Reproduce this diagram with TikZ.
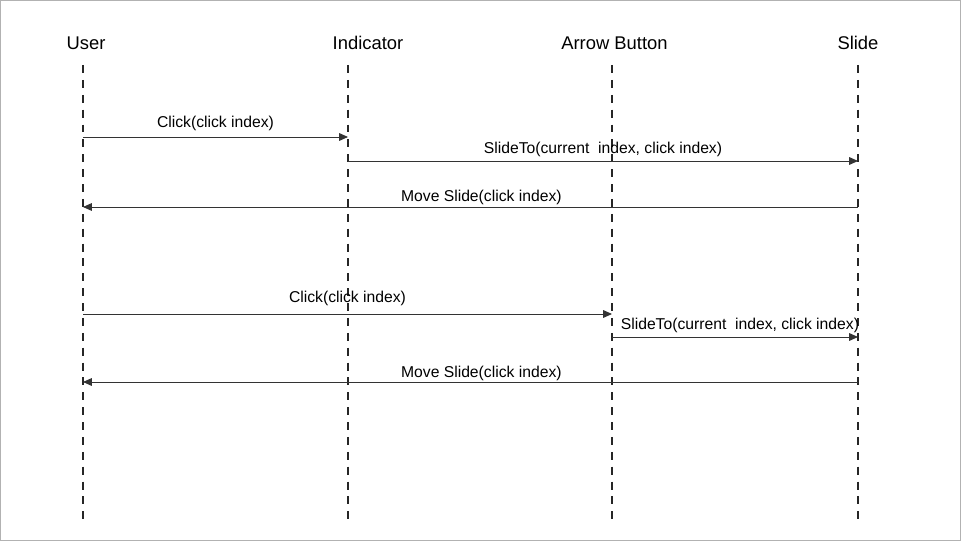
\documentclass[tikz,border=0pt]{standalone}
\usepackage{fontspec}
\setmainfont{Liberation Sans}
\usetikzlibrary{arrows.meta,positioning,calc}

\begin{document}
\begin{tikzpicture}[x=0.03cm,y=-0.03cm,
    actor/.style={anchor=base,inner sep=0pt,font=\fontsize{15.7}{18}\selectfont},
    lifeline/.style={black!85,line width=1.9pt,dash pattern=on 6.8pt off 5.9pt},
    msg/.style={black!80,line width=0.8pt,-{Triangle[length=7.6pt,width=6.6pt]}},
    txt/.style={anchor=base,inner sep=0pt,black,font=\fontsize{13.4}{16}\selectfont}]
    % Frame
    \useasboundingbox (0,0) rectangle (961,541);
    \draw[black!30,line width=0.9pt] (0.5,0.5) rectangle (960.5,540.5);

    % Participants
    \node[actor] (user) at (86,49.5) {User};
    \node[actor] (ind) at (368,49.5) {Indicator};
    \node[actor] (btn) at (614.5,49.5) {Arrow Button};
    \node[actor] (slide) at (858,49.5) {Slide};

    % Lifelines
    \coordinate (userTop) at (83,65);   \coordinate (userBot) at (83,520);
    \coordinate (indTop) at (348,65);   \coordinate (indBot) at (348,520);
    \coordinate (btnTop) at (612,65);   \coordinate (btnBot) at (612,520);
    \coordinate (slideTop) at (858,65); \coordinate (slideBot) at (858,520);
    \foreach \p in {user,ind,btn,slide}
        \draw[lifeline] (\p Top) -- (\p Bot);

    % Message rows
    \coordinate (r1) at (0,137);
    \coordinate (r2) at (0,161);
    \coordinate (r3) at (0,207);
    \coordinate (r4) at (0,314);
    \coordinate (r5) at (0,337);
    \coordinate (r6) at (0,382);

    % Click on indicator
    \draw[msg] (userTop |- r1) -- node[txt,midway,yshift=8pt] {Click(click index)} (indTop |- r1);
    \draw[msg] (indTop |- r2) -- node[txt,midway,yshift=6.8pt] {SlideTo(current\ \ index, click index)} (slideTop |- r2);
    \draw[msg] (slideTop |- r3) -- node[txt,pos=0.486,yshift=4.3pt] {Move Slide(click index)} (userTop |- r3);

    % Click on arrow button
    \draw[msg] (userTop |- r4) -- node[txt,midway,yshift=9.5pt] {Click(click index)} (btnTop |- r4);
    \draw[msg] (btnTop |- r5) -- node[txt,pos=0.52,yshift=6.8pt] {SlideTo(current\ \ index, click index)} (slideTop |- r5);
    \draw[msg] (slideTop |- r6) -- node[txt,pos=0.486,yshift=4pt] {Move Slide(click index)} (userTop |- r6);
\end{tikzpicture}
\end{document}
